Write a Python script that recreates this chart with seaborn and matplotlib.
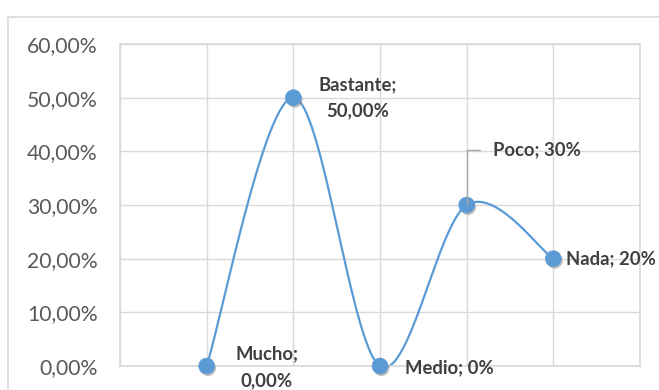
import numpy as np
import pandas as pd
import matplotlib
matplotlib.use("Agg")
import matplotlib.pyplot as plt
import matplotlib.patheffects as pe
from matplotlib.patches import Rectangle
import seaborn as sns

# data
categories = ["Mucho", "Bastante", "Medio", "Poco", "Nada"]
values = [0.0, 0.50, 0.0, 0.30, 0.20]
point_labels = ["Mucho;\n0,00%", "Bastante;\n50,00%", "Medio; 0%", "Poco; 30%", "Nada; 20%"]
y_ticks = [0.0, 0.1, 0.2, 0.3, 0.4, 0.5, 0.6]

sns.set_theme(style="whitegrid")
plt.rcParams.update({
    "font.family": ["Lato", "DejaVu Sans"],
    "axes.edgecolor": "#d9d9d9",
    "grid.color": "#d9d9d9",
    "grid.linewidth": 1.0,
})

BLUE = "#5b9bd5"
TEXT = "#404040"


def smooth_curve(xs, ys, steps=60):
    # Excel-like smoothed line: cubic bezier with catmull-rom style control points
    pts = np.column_stack([xs, ys]).astype(float)
    n = len(pts)
    out = []
    for i in range(n - 1):
        p0 = pts[i - 1] if i > 0 else pts[i]
        p1 = pts[i]
        p2 = pts[i + 1]
        p3 = pts[i + 2] if i + 2 < n else pts[i + 1]
        c1 = p1 + (p2 - p0) / 6.0
        c2 = p2 - (p3 - p1) / 6.0
        t = np.linspace(0, 1, steps)[:, None]
        seg = ((1 - t) ** 3) * p1 + 3 * ((1 - t) ** 2) * t * c1 + 3 * (1 - t) * t ** 2 * c2 + t ** 3 * p2
        out.append(seg if i == 0 else seg[1:])
    return np.vstack(out)


x_pos = np.arange(1, len(categories) + 1)
df = pd.DataFrame({"x": x_pos, "value": values, "cat": categories})
curve = smooth_curve(x_pos, values)
curve_df = pd.DataFrame({"x": curve[:, 0], "value": curve[:, 1]})

fig = plt.figure(figsize=(6.59, 3.9), dpi=100)
ax = fig.add_axes([120 / 659, 24 / 390, 520 / 659, 322 / 390])

# outer chart frame
fig.patches.append(Rectangle((8 / 659, -0.05), 1.0, 0.05 + (390 - 17) / 390,
                             transform=fig.transFigure, fill=False,
                             edgecolor="#d9d9d9", linewidth=1.2))

sns.lineplot(data=curve_df, x="x", y="value", ax=ax, color=BLUE,
             linewidth=1.6, sort=False, estimator=None, clip_on=False)
sc = sns.scatterplot(data=df, x="x", y="value", ax=ax, color=BLUE, s=130,
                     edgecolor=BLUE, linewidth=0.5, clip_on=False, zorder=5)
sc.collections[-1].set_path_effects([
    pe.SimplePatchShadow(offset=(1, -1.5), shadow_rgbFace="#7f7f7f", alpha=0.5),
    pe.Normal()])

ax.set_xlim(0, 6)
ax.set_ylim(0, 0.6)
ax.set_xticks(np.arange(0, 7))
ax.set_xticklabels([])
ax.set_yticks(y_ticks)
ax.set_yticklabels([f"{v * 100:.2f}".replace(".", ",") + "%" for v in y_ticks],
                   color="#595959", fontsize=15.2)
ax.tick_params(axis="y", length=0, pad=16)
ax.tick_params(axis="x", length=0)
ax.set_xlabel("")
ax.set_ylabel("")
ax.grid(True, which="major", axis="both")

# data labels (pixel offsets from each point)
offsets = [(60, -1, "center"), (64, 0, "center"), (25, -2, "left"),
           (26, 55, "left"), (13, 0, "left")]
for xi, yi, lab, (dx, dy, ha) in zip(x_pos, values, point_labels, offsets):
    kw = {}
    if lab.startswith("Poco"):
        kw["arrowprops"] = dict(arrowstyle="-", color="#a6a6a6", lw=1.0,
                                connectionstyle="angle,angleA=0,angleB=90,rad=0",
                                relpos=(0, 0.5), shrinkA=7, shrinkB=0)
    ax.annotate(lab, xy=(xi, yi), xytext=(dx, dy), textcoords="offset pixels",
                ha=ha, va="center", fontsize=13.3, fontweight="bold", color=TEXT,
                linespacing=1.7, annotation_clip=False, zorder=6, **kw)

fig.savefig("out.png", dpi=100)
